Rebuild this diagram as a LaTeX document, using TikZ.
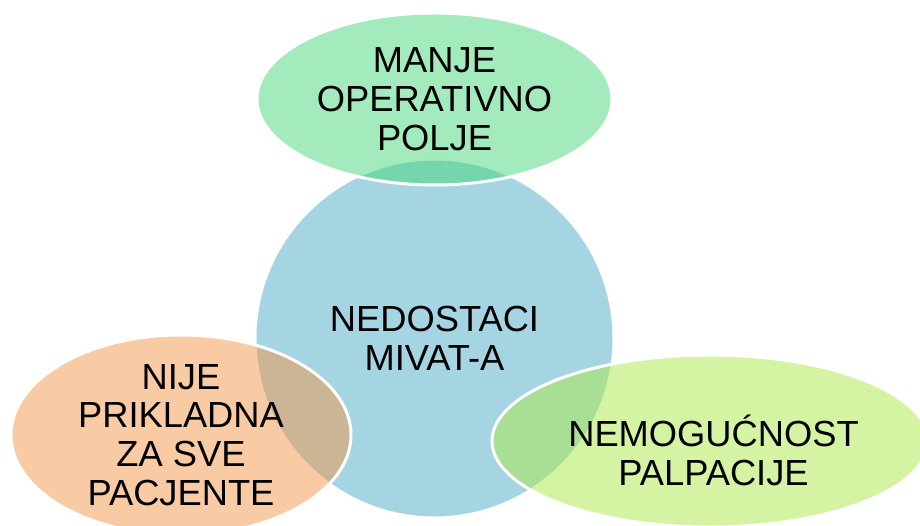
\documentclass[tikz,border=0pt]{standalone}
\usepackage{fontspec}
\setmainfont{Liberation Sans}
\usetikzlibrary{shapes.geometric}
\definecolor{cblue}{RGB}{165,213,226}
\definecolor{cgreen}{RGB}{71,213,121}
\definecolor{cpeach}{RGB}{243,151,73}
\definecolor{clime}{RGB}{171,233,71}
\tikzset{
  lbl/.style={font=\fontsize{36.3}{38.7}\selectfont, align=center, text=black, inner sep=0pt},
  blob/.style={ellipse, draw=white, line width=3pt, fill opacity=0.5, text opacity=1, inner sep=0pt},
}
\begin{document}
\begin{tikzpicture}[x=1pt,y=-1pt]
\useasboundingbox (0,0) rectangle (920,526);
\begin{scope}
\clip (0,0) rectangle (920,526);
\node[circle, fill=cblue, draw=white, line width=3pt, minimum size=359pt, lbl] (c) at (434.5,338.5) {NEDOSTACI\\MIVAT-A};
\node[blob, fill=cgreen, minimum width=355pt, minimum height=172pt, lbl] (t) at (434.5,99) {MANJE\\OPERATIVNO\\POLJE};
\node[blob, fill=cpeach, minimum width=340pt, minimum height=176pt, lbl] (l) at (181,435) {NIJE\\PRIKLADNA\\ZA SVE\\PACJENTE};
\node[blob, fill=clime, minimum width=436pt, minimum height=172pt] (r) at (710,441) {};
\node[lbl] (rt) at (713.5,450.3) {NEMOGUĆNOST\\PALPACIJE};
\end{scope}
\end{tikzpicture}
\end{document}
